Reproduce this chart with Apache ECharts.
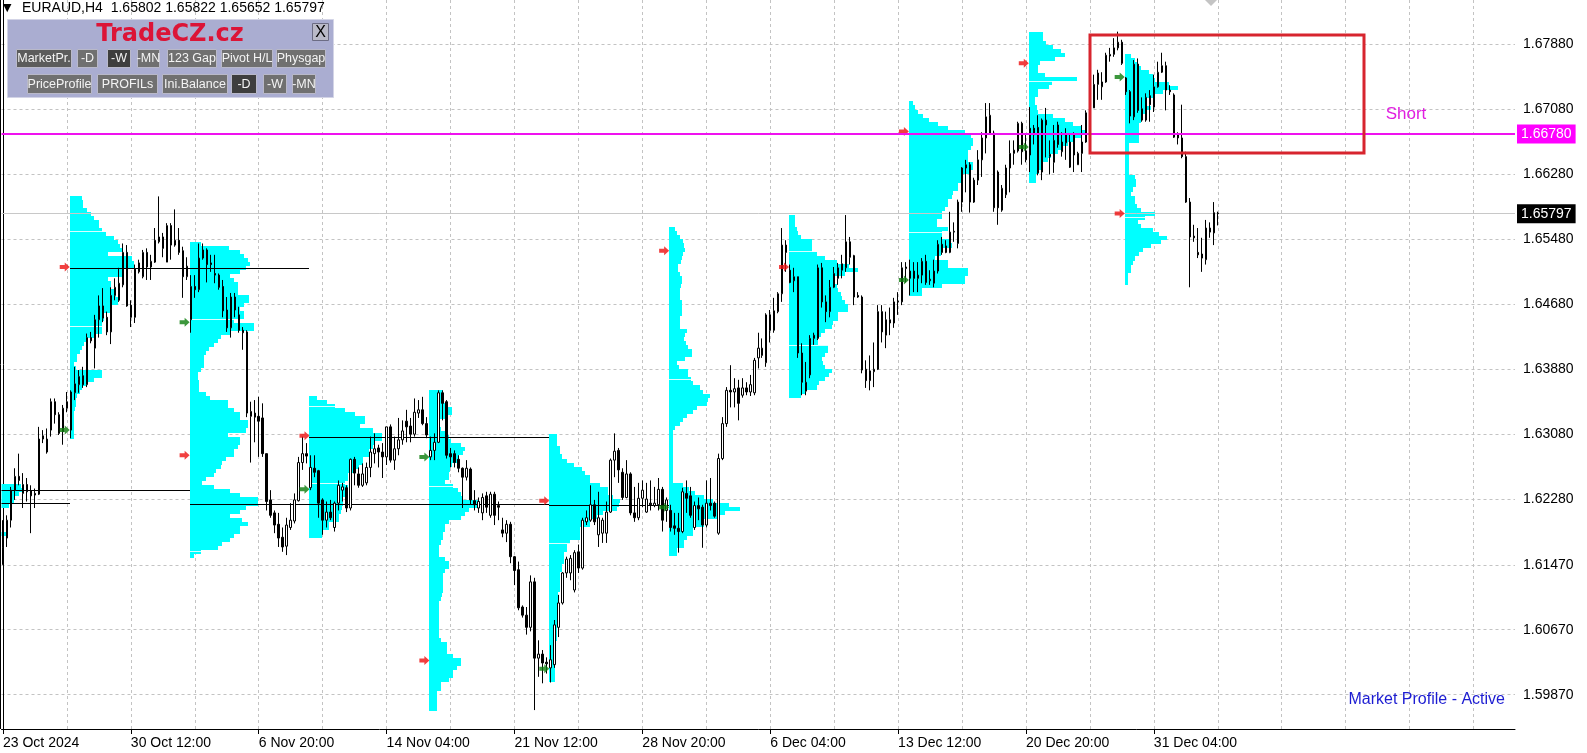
<!DOCTYPE html>
<html><head><meta charset="utf-8">
<script src="https://cdn.jsdelivr.net/npm/echarts@6/dist/echarts.min.js"></script>
<style>html,body{margin:0;padding:0;background:#fff;}#c{width:1587px;height:753px;}</style>
</head><body><div id="c"></div>
<script>
// ---------- DATA ----------
const symbolName = 'EURAUD,H4';
// H4 candles: [open, close, low, high], bar index = position
const candles = [
[1.6196,1.6168,1.6147,1.6202],[1.6180,1.6202,1.6169,1.6208],[1.6202,1.6239,1.6193,1.6243],[1.6239,1.6256,1.6227,1.6266],[1.6256,1.6251,1.6245,1.6284],
[1.6235,1.6246,1.6217,1.6260],[1.6246,1.6237,1.6225,1.6254],[1.6238,1.6232,1.6186,1.6245],[1.6235,1.6233,1.6217,1.6241],[1.6234,1.6302,1.6233,1.6317],
[1.6302,1.6306,1.6297,1.6313],[1.6286,1.6302,1.6284,1.6315],[1.6313,1.6348,1.6305,1.6352],[1.6348,1.6332,1.6321,1.6352],[1.6332,1.6309,1.6307,1.6335],
[1.6311,1.6340,1.6295,1.6344],[1.6340,1.6348,1.6335,1.6360],[1.6313,1.6360,1.6303,1.6362],[1.6359,1.6370,1.6350,1.6391],[1.6369,1.6379,1.6359,1.6387],
[1.6380,1.6369,1.6365,1.6391],[1.6369,1.6427,1.6366,1.6432],[1.6427,1.6423,1.6420,1.6434],[1.6414,1.6449,1.6389,1.6455],[1.6449,1.6466,1.6427,1.6479],
[1.6466,1.6451,1.6446,1.6488],[1.6452,1.6434,1.6430,1.6459],[1.6434,1.6479,1.6419,1.6489],[1.6479,1.6489,1.6473,1.6500],[1.6473,1.6494,1.6471,1.6513],
[1.6492,1.6532,1.6489,1.6543],[1.6532,1.6466,1.6465,1.6541],[1.6467,1.6452,1.6440,1.6473],[1.6452,1.6512,1.6445,1.6517],[1.6508,1.6519,1.6506,1.6523],
[1.6502,1.6532,1.6500,1.6535],[1.6532,1.6514,1.6498,1.6537],[1.6514,1.6521,1.6498,1.6529],[1.6520,1.6547,1.6519,1.6562],[1.6545,1.6551,1.6543,1.6601],
[1.6551,1.6537,1.6526,1.6556],[1.6520,1.6565,1.6520,1.6568],[1.6565,1.6541,1.6523,1.6568],[1.6541,1.6547,1.6539,1.6585],[1.6547,1.6532,1.6529,1.6562],
[1.6534,1.6502,1.6476,1.6539],[1.6502,1.6515,1.6498,1.6526],[1.6449,1.6490,1.6433,1.6504],[1.6490,1.6486,1.6476,1.6504],[1.6486,1.6525,1.6483,1.6543],
[1.6525,1.6535,1.6523,1.6543],[1.6535,1.6517,1.6495,1.6537],[1.6519,1.6517,1.6508,1.6529],[1.6506,1.6504,1.6494,1.6529],[1.6504,1.6489,1.6486,1.6506],
[1.6490,1.6460,1.6452,1.6498],[1.6461,1.6439,1.6434,1.6477],[1.6439,1.6477,1.6427,1.6482],[1.6461,1.6477,1.6452,1.6482],[1.6455,1.6436,1.6433,1.6465],
[1.6436,1.6433,1.6412,1.6440],[1.6434,1.6334,1.6329,1.6436],[1.6330,1.6336,1.6273,1.6348],[1.6334,1.6329,1.6298,1.6350],[1.6330,1.6324,1.6280,1.6354],
[1.6328,1.6284,1.6280,1.6346],[1.6284,1.6225,1.6214,1.6284],[1.6227,1.6208,1.6205,1.6239],[1.6211,1.6196,1.6186,1.6214],[1.6197,1.6180,1.6169,1.6211],
[1.6181,1.6169,1.6163,1.6193],[1.6170,1.6196,1.6159,1.6205],[1.6193,1.6202,1.6190,1.6223],[1.6201,1.6227,1.6198,1.6235],[1.6226,1.6273,1.6225,1.6280],
[1.6273,1.6284,1.6264,1.6305],[1.6284,1.6281,1.6272,1.6297],[1.6242,1.6267,1.6239,1.6282],[1.6266,1.6261,1.6255,1.6282],[1.6263,1.6223,1.6205,1.6264],
[1.6227,1.6202,1.6184,1.6229],[1.6202,1.6212,1.6193,1.6225],[1.6212,1.6205,1.6202,1.6227],[1.6193,1.6223,1.6188,1.6225],[1.6223,1.6245,1.6214,1.6251],
[1.6239,1.6243,1.6225,1.6248],[1.6242,1.6217,1.6212,1.6245],[1.6217,1.6277,1.6214,1.6278],[1.6277,1.6260,1.6245,1.6280],[1.6259,1.6245,1.6242,1.6267],
[1.6245,1.6259,1.6243,1.6272],[1.6248,1.6267,1.6245,1.6273],[1.6267,1.6286,1.6255,1.6305],[1.6284,1.6290,1.6272,1.6309],[1.6291,1.6286,1.6267,1.6295],
[1.6286,1.6280,1.6254,1.6297],[1.6280,1.6317,1.6270,1.6317],[1.6317,1.6276,1.6273,1.6320],[1.6276,1.6290,1.6264,1.6305],[1.6290,1.6301,1.6282,1.6328],
[1.6301,1.6312,1.6295,1.6325],[1.6324,1.6317,1.6298,1.6338],[1.6318,1.6308,1.6298,1.6328],[1.6308,1.6335,1.6305,1.6352],[1.6334,1.6338,1.6328,1.6350],
[1.6338,1.6321,1.6319,1.6354],[1.6321,1.6307,1.6303,1.6329],[1.6280,1.6288,1.6276,1.6305],[1.6288,1.6298,1.6276,1.6309],[1.6298,1.6359,1.6297,1.6362],
[1.6359,1.6346,1.6325,1.6362],[1.6348,1.6282,1.6278,1.6350],[1.6284,1.6280,1.6267,1.6291],[1.6284,1.6273,1.6267,1.6288],[1.6277,1.6266,1.6261,1.6282],
[1.6266,1.6255,1.6217,1.6267],[1.6255,1.6266,1.6251,1.6276],[1.6265,1.6227,1.6221,1.6267],[1.6226,1.6221,1.6214,1.6239],[1.6217,1.6225,1.6211,1.6230],
[1.6211,1.6230,1.6202,1.6235],[1.6232,1.6218,1.6211,1.6237],[1.6208,1.6234,1.6205,1.6237],[1.6234,1.6208,1.6196,1.6237],[1.6220,1.6218,1.6202,1.6225],
[1.6190,1.6186,1.6181,1.6205],[1.6186,1.6197,1.6175,1.6202],[1.6197,1.6157,1.6149,1.6200],[1.6157,1.6140,1.6122,1.6158],[1.6141,1.6094,1.6091,1.6151],
[1.6095,1.6085,1.6082,1.6097],[1.6085,1.6070,1.6061,1.6095],[1.6070,1.6126,1.6065,1.6134],[1.6126,1.6032,1.5968,1.6131],[1.6032,1.6037,1.6009,1.6054],
[1.6037,1.6026,1.6001,1.6042],[1.6027,1.6025,1.6013,1.6033],[1.6020,1.6030,1.6002,1.6048],[1.6024,1.6073,1.6020,1.6079],[1.6070,1.6100,1.6058,1.6110],
[1.6100,1.6137,1.6098,1.6138],[1.6137,1.6154,1.6131,1.6157],[1.6137,1.6155,1.6128,1.6159],[1.6116,1.6162,1.6113,1.6165],[1.6163,1.6143,1.6137,1.6172],
[1.6143,1.6202,1.6141,1.6205],[1.6200,1.6205,1.6196,1.6214],[1.6202,1.6221,1.6200,1.6245],[1.6221,1.6200,1.6196,1.6227],[1.6184,1.6205,1.6169,1.6237],
[1.6186,1.6202,1.6174,1.6205],[1.6186,1.6212,1.6174,1.6225],[1.6212,1.6276,1.6211,1.6278],[1.6276,1.6287,1.6255,1.6309],[1.6288,1.6264,1.6248,1.6291],
[1.6261,1.6230,1.6227,1.6266],[1.6230,1.6259,1.6229,1.6276],[1.6259,1.6211,1.6208,1.6261],[1.6211,1.6205,1.6200,1.6243],[1.6205,1.6229,1.6202,1.6248],
[1.6229,1.6239,1.6218,1.6251],[1.6212,1.6228,1.6211,1.6248],[1.6223,1.6221,1.6214,1.6251],[1.6220,1.6223,1.6218,1.6243],[1.6221,1.6240,1.6214,1.6254],
[1.6240,1.6202,1.6188,1.6243],[1.6214,1.6227,1.6200,1.6230],[1.6214,1.6193,1.6188,1.6221],[1.6195,1.6192,1.6184,1.6211],[1.6192,1.6188,1.6162,1.6211],
[1.6188,1.6237,1.6186,1.6242],[1.6235,1.6229,1.6211,1.6251],[1.6232,1.6208,1.6205,1.6243],[1.6193,1.6220,1.6190,1.6225],[1.6220,1.6216,1.6202,1.6230],
[1.6218,1.6196,1.6168,1.6221],[1.6196,1.6223,1.6193,1.6251],[1.6223,1.6220,1.6214,1.6254],[1.6223,1.6207,1.6205,1.6225],[1.6186,1.6278,1.6184,1.6284],
[1.6278,1.6321,1.6276,1.6329],[1.6321,1.6362,1.6317,1.6366],[1.6362,1.6360,1.6341,1.6393],[1.6360,1.6364,1.6341,1.6377],[1.6365,1.6346,1.6325,1.6375],
[1.6356,1.6365,1.6353,1.6377],[1.6365,1.6360,1.6356,1.6372],[1.6360,1.6369,1.6355,1.6381],[1.6359,1.6399,1.6356,1.6402],[1.6402,1.6414,1.6389,1.6433],
[1.6405,1.6414,1.6402,1.6426],[1.6396,1.6455,1.6391,1.6457],[1.6455,1.6436,1.6421,1.6461],[1.6436,1.6460,1.6433,1.6476],[1.6459,1.6481,1.6457,1.6483],
[1.6481,1.6541,1.6471,1.6562],[1.6541,1.6532,1.6508,1.6547],[1.6510,1.6495,1.6494,1.6517],[1.6497,1.6502,1.6483,1.6513],[1.6502,1.6408,1.6402,1.6502],
[1.6408,1.6372,1.6356,1.6420],[1.6361,1.6372,1.6356,1.6397],[1.6381,1.6426,1.6377,1.6430],[1.6426,1.6430,1.6418,1.6433],[1.6426,1.6513,1.6424,1.6517],
[1.6513,1.6471,1.6464,1.6519],[1.6471,1.6459,1.6446,1.6479],[1.6459,1.6489,1.6452,1.6498],[1.6489,1.6506,1.6488,1.6514],[1.6500,1.6513,1.6492,1.6519],
[1.6510,1.6518,1.6500,1.6529],[1.6513,1.6545,1.6508,1.6578],[1.6545,1.6526,1.6517,1.6551],[1.6528,1.6477,1.6467,1.6529],[1.6479,1.6477,1.6476,1.6483],
[1.6477,1.6387,1.6383,1.6479],[1.6388,1.6374,1.6365,1.6399],[1.6374,1.6386,1.6362,1.6405],[1.6385,1.6388,1.6366,1.6421],[1.6388,1.6459,1.6387,1.6467],
[1.6459,1.6434,1.6421,1.6467],[1.6430,1.6449,1.6414,1.6459],[1.6445,1.6449,1.6430,1.6464],[1.6445,1.6471,1.6439,1.6476],[1.6471,1.6472,1.6455,1.6483],
[1.6471,1.6513,1.6467,1.6520],[1.6512,1.6514,1.6495,1.6520],[1.6500,1.6509,1.6479,1.6523],[1.6509,1.6500,1.6483,1.6520],[1.6500,1.6504,1.6483,1.6520],
[1.6504,1.6521,1.6494,1.6525],[1.6521,1.6495,1.6492,1.6529],[1.6497,1.6499,1.6492,1.6510],[1.6494,1.6509,1.6489,1.6523],[1.6509,1.6542,1.6506,1.6547],
[1.6542,1.6532,1.6529,1.6551],[1.6540,1.6532,1.6531,1.6547],[1.6532,1.6557,1.6531,1.6582],[1.6557,1.6558,1.6545,1.6569],[1.6543,1.6594,1.6537,1.6597],
[1.6594,1.6636,1.6582,1.6637],[1.6636,1.6640,1.6606,1.6646],[1.6640,1.6594,1.6581,1.6643],[1.6621,1.6594,1.6593,1.6624],[1.6621,1.6646,1.6615,1.6658],
[1.6646,1.6673,1.6625,1.6680],[1.6673,1.6699,1.6654,1.6716],[1.6679,1.6701,1.6677,1.6716],[1.6679,1.6587,1.6582,1.6682],[1.6631,1.6587,1.6566,1.6633],
[1.6584,1.6611,1.6582,1.6615],[1.6603,1.6636,1.6599,1.6640],[1.6636,1.6654,1.6606,1.6670],[1.6654,1.6658,1.6640,1.6670],[1.6657,1.6691,1.6655,1.6693],
[1.6691,1.6656,1.6640,1.6693],[1.6646,1.6657,1.6643,1.6677],[1.6685,1.6652,1.6631,1.6711],[1.6685,1.6677,1.6665,1.6689],[1.6686,1.6630,1.6627,1.6701],
[1.6631,1.6695,1.6621,1.6697],[1.6689,1.6695,1.6649,1.6710],[1.6650,1.6653,1.6628,1.6670],[1.6643,1.6670,1.6630,1.6689],[1.6689,1.6665,1.6661,1.6693],
[1.6656,1.6668,1.6650,1.6680],[1.6667,1.6677,1.6646,1.6685],[1.6668,1.6637,1.6636,1.6677],[1.6677,1.6652,1.6631,1.6680],[1.6640,1.6654,1.6640,1.6656],
[1.6654,1.6668,1.6631,1.6689],[1.6668,1.6704,1.6667,1.6707],[1.6704,1.6720,1.6698,1.6726],[1.6710,1.6739,1.6710,1.6751],[1.6739,1.6753,1.6720,1.6757],
[1.6736,1.6742,1.6720,1.6754],[1.6742,1.6775,1.6741,1.6778],[1.6774,1.6776,1.6767,1.6784],[1.6776,1.6784,1.6773,1.6796],[1.6784,1.6791,1.6781,1.6804],
[1.6791,1.6765,1.6763,1.6794],[1.6747,1.6730,1.6726,1.6748],[1.6730,1.6700,1.6691,1.6732],[1.6699,1.6764,1.6695,1.6769],[1.6764,1.6707,1.6704,1.6771],
[1.6695,1.6709,1.6693,1.6723],[1.6695,1.6723,1.6693,1.6728],[1.6725,1.6714,1.6693,1.6732],[1.6711,1.6736,1.6705,1.6751],[1.6736,1.6754,1.6735,1.6767],
[1.6754,1.6762,1.6753,1.6778],[1.6762,1.6732,1.6707,1.6767],[1.6732,1.6730,1.6726,1.6738],[1.6726,1.6674,1.6673,1.6728],[1.6677,1.6673,1.6665,1.6680],
[1.6673,1.6650,1.6648,1.6714],[1.6650,1.6594,1.6593,1.6656],[1.6594,1.6551,1.6489,1.6599],[1.6552,1.6550,1.6545,1.6566],[1.6532,1.6529,1.6525,1.6562],
[1.6525,1.6530,1.6508,1.6550],[1.6523,1.6562,1.6517,1.6572],[1.6557,1.6562,1.6550,1.6569],[1.6556,1.6581,1.6541,1.6594],[1.65802,1.65797,1.65652,1.65822]
];
const lastBar = [1.65802, 1.65822, 1.65652, 1.65797]; // O H L C shown in header

const xLabelBars = [0, 32, 64, 96, 128, 160, 192, 224, 256, 288];
const xLabels = ['23 Oct 2024','30 Oct 12:00','6 Nov 20:00','14 Nov 04:00','21 Nov 12:00','28 Nov 20:00','6 Dec 04:00','13 Dec 12:00','20 Dec 20:00','31 Dec 04:00'];
const xGridBars = [16,32,48,64,80,96,112,128,144,160,176,192,208,224,240,256,272,288,304,320,336,352,368];
const yTicks = [1.59870,1.60670,1.61470,1.62280,1.63080,1.63880,1.64680,1.65480,1.66280,1.67080,1.67880];

// Market profiles (weekly): start bar, top price, row widths (in bars) per 0.0005 price row
const profStep = 0.0005;
const profStarts = [-1, 17, 47, 77, 107, 137, 167, 197, 227, 257, 281];
const profTops = [1.6247, 1.6602, 1.6545, 1.6355, 1.6362, 1.6308, 1.6563, 1.6578, 1.6718, 1.6803, 1.6777];
const profA = [5.8,6.2,5.2,4,4,2.7,0,0,0,0,0,0,2];
const profB = [3,3.2,3.2,4.2,5.4,6,7.2,7.2,8,9,11,12,12.5,13,9.7,15.5,16,16,13.7,13,9.7,10.4,10.4,11,11.5,12.2,12,10.4,10,8.7,8.5,8,8,8,6,4.5,3.5,3,2.5,1.7,1.7,1,1.5,8,8,6,4,3,2.5,1.7,1.5,1.5,1.2,1,1,1,1,1,1,1];
const profC = [2.75,9.8,12.7,13.5,14.5,15.2,14,12.7,10.2,11,12,12,12,14.8,14.8,13.5,12.7,13.5,13.5,11,16,16,10.2,7.8,7,6,4.8,4.2,3.7,3.7,3.7,2.8,2,2,2.3,2.3,2.3,4,5.2,9.5,9.5,11,12.7,12.7,14.5,14.5,14,9.5,12.7,12.7,12,11,11,9,8.2,7.8,6.5,6,4,3.2,6,10,12.7,17,17,14,12.7,10.2,13,14.5,12.7,12.7,11,10,8,7,2.8,1];
const profD = [1.9,4.5,6.5,9,11.5,14,14,12.7,16,18.2,18.2,16.5,16,14.8,14.8,13.5,13.5,12.5,11.5,9.7,9.7,9,9.7,9.7,9,8.5,8.5,8.2,8,7.4,7.4,4.8,4.8,3.2,3.2];
const profE = [3.5,3.5,3.5,4,5.7,5.7,4,2,2,3,4,5,5.3,8,9,8.5,7.3,7.3,5.7,5.2,4.8,4.8,4,6,7.2,8,8.2,12.2,12.2,10,9,8,5,4,3.8,3.3,3.3,3,2.5,2.5,2.5,4,4.8,4.8,4,3.5,3.5,3.5,3.5,3.5,3.2,3,2.5,2.5,2.5,2.5,2.5,2.5,2.5,2.5,2.5,3,4.5,4.5,4.5,6,8,8,7,6,6,5,3,3,2,2,2,2,2];
const profF = [2,2,2,2.7,2.7,3.2,4.5,6.2,8.2,9,10.3,10.3,12.7,14.8,14.8,16,17.7,17.5,17,13.5,12,10.3,10.3,7.7,7.7,7.7,5.3,4.4,4.4,3.8,3.6,3.6,3.2,3.2,2.7,2.7,2.7,2.7,2.7,2.3,2.3,2.3,2.3,2.3,2.3,2.3,2,2,2,2,2,1.5,1.5,1.5,1.5,1.5,1.5,1.5,1.5,1.5,1.5];
const profG = [1.5,2,2.7,3.5,3.8,4,3.5,3.2,3,2.3,2.3,2.8,3.2,3.2,3,2.7,2.7,2.7,3.2,3.2,3.2,3.2,2.7,2.7,2.7,4.4,4,3.6,4.2,4.8,5.7,5.7,4,2,2.5,4.8,4.8,5.5,6,7.7,8.5,10.2,9.8,9.4,7,6,4.4,3.5,2.7,1.5,1,1,1,1,1,1,1,1,1,1,1,1,1,3.5,5,6.5,8.6,11,15,17.7,14,11.9,8.6,8.6,6,6,4.5,3.6,3.6,2,2];
const profH = [1.5,1.5,1.5,2,2.3,3,5.7,5.7,5.7,6.9,9,12,15,17.3,14,11.5,11.5,12,12.2,13,13.2,14,14.8,14.8,12.2,12.2,11,10.7,9,8,7.3,7.3,9.8,9.8,9,8.2,8.6,9,10.7,10,9,7.5,7,4,3];
const profI = [1,1.5,2.3,3.5,5,7.3,9.8,14,15.5,16,16,15.5,14.8,14.8,14.8,16,16,15,13.2,13,12.3,12.3,11,10.7,9.8,9.8,9,8.2,8.2,7,7,9.8,8.2,8.2,10,10.7,8.2,8,6.5,9.8,9.8,14.8,14.8,14,14,8.2,3.2,3.2];
const profJ = [3.5,3.5,4.4,6,8,9,6.5,2.7,2.3,2.3,4,12,5.7,5,2.3,2.3,1.5,1.5,2,2.3,6,9,11,13,14,13,11,9.8,8,7.3,5.5,4.8,3.2,3.2,2.5,1.9,1.9];
const profK = [1.7,2.5,3.2,4.2,6,7,7.5,11,13.3,9.5,7,5,5.5,6.7,5.5,4.2,4.2,3.7,3.7,3.7,3.7,3.5,1.2,1.2,1.2,1.2,1.2,1.2,1.2,1.2,2.5,2.9,2.9,2.2,1.7,2.5,2.5,3,4.2,7.5,5,3.3,4.2,7,8.5,10.5,9,6.7,4.5,3.5,2.5,2,1.7,1.5,0.8,0.8,0.8];
const profWidths = [profA, profB, profC, profD, profE, profF, profG, profH, profI, profJ, profK];
// value-area edge levels drawn as thin white lines: [profile index, price]
const vaLevels = [[1,1.6558],[1,1.6441],[2,1.6450],[2,1.6164],[3,1.6343],[3,1.6248],[4,1.6244],[5,1.6174],[6,1.6376],[7,1.6534],[7,1.6418],[8,1.6557],[9,1.6743],[10,1.6576]];

// POC lines: [fromBar, toBar, price]
const pocLines = [[-1,47,1.6239],[-1,17,1.6223],[17,77,1.6513],[47,137,1.6222],[77,137,1.6304],[137,167,1.6221]];
// profile marker arrows: [bar, price]
const redMarks = [[17,1.6514],[47,1.6282],[77,1.6306],[107,1.6029],[137,1.6226],[167,1.6534],[197,1.6514],[227,1.6681],[257,1.6765],[281,1.6580]];
const greenMarks = [[17,1.6313],[47,1.6446],[77,1.6240],[107,1.6280],[137,1.6019],[167,1.6218],[227,1.6498],[257,1.6662],[281,1.6748]];

const shortLevel = 1.66780;
const lastPrice = 1.65797;
const shortBox = [272, 340.5, 1.6800, 1.6654]; // fromBar, toBar, top, bottom
const shortText = ['Short', 346, 1.6702];

// ---------- BUILD ----------
const FONT = 'Liberation Sans, Arial, sans-serif';
const X_MIN = -0.375, X_MAX = X_MIN + 1515 / 4;
const candleData = candles.map((c, i) => [i, c[0], c[1], c[2], c[3]]);
const profRows = [];
profWidths.forEach((ws, p) => {
  ws.forEach((w, k) => {
    if (w > 0) profRows.push([profStarts[p] - 0.3, profTops[p] - k * profStep, profTops[p] - (k + 1) * profStep, w]);
  });
});
const vaRows = vaLevels.map(v => {
  const p = v[0], k = Math.floor((profTops[p] - v[1]) / profStep);
  return [profStarts[p] - 0.3, v[1], profWidths[p][k] || 0];
});

function renderProfile(params, api) {
  const x0 = api.value(0), hi = api.value(1), lo = api.value(2), w = api.value(3);
  const a = api.coord([x0, hi]), b = api.coord([x0 + w, lo]);
  const cs = params.coordSys;
  const xa = Math.round(a[0]), xb = Math.round(b[0]), ya = Math.round(a[1]), yb = Math.round(b[1]);
  const r = echarts.graphic.clipRectByRect({x: xa, y: ya, width: xb - xa, height: yb - ya},
    {x: cs.x, y: cs.y, width: cs.width, height: cs.height});
  if (!r) return null;
  return {type: 'rect', shape: r, style: {fill: '#00ffff'}};
}
function renderVa(params, api) {
  const a = api.coord([api.value(0), api.value(1)]);
  const b = api.coord([api.value(0) + api.value(2), api.value(1)]);
  const y = Math.round(a[1]) + 0.5;
  return {type: 'line', shape: {x1: Math.round(a[0]), y1: y, x2: Math.round(b[0]), y2: y}, style: {stroke: '#ffffff', lineWidth: 1, opacity: 0.85}};
}
function renderPoc(params, api) {
  const a = api.coord([api.value(0) - 0.3, api.value(2)]);
  const b = api.coord([api.value(1) - 0.3, api.value(2)]);
  const cs = params.coordSys;
  const y = Math.round(a[1]) + 0.5;
  return {type: 'line', shape: {x1: Math.max(cs.x, Math.round(a[0])), y1: y, x2: Math.round(b[0]), y2: y}, style: {stroke: '#000', lineWidth: 1}};
}
function renderBox(params, api) {
  const a = api.coord([api.value(0), api.value(2)]);
  const b = api.coord([api.value(1), api.value(3)]);
  return {type: 'rect', shape: {x: Math.round(a[0]), y: Math.round(a[1]), width: Math.round(b[0] - a[0]), height: Math.round(b[1] - a[1])},
    style: {fill: 'none', stroke: '#d7252e', lineWidth: 3}};
}
function renderShort(params, api) {
  const p = api.coord([api.value(1), api.value(2)]);
  return {type: 'text', x: p[0], y: p[1], style: {text: shortText[0], fill: '#e01ee0', font: '17px ' + FONT, textAlign: 'left', textVerticalAlign: 'middle'}};
}

const arrowPath = 'path://M0,2.5 L5,2.5 L5,0 L10,4.5 L5,9 L5,6.5 L0,6.5 Z';

// panel buttons (UI overlay)
const row1 = [['MarketPr.',16,55,'#5c5c5c'],['-D',77,20,'#707070'],['-W',107,23,'#3e3e3e'],['-MN',137,22,'#707070'],['123 Gap',167,49,'#707070'],['Pivot H/L',221,51,'#707070'],['Physgap',276,49,'#707070']];
const row2 = [['PriceProfile',27,64,'#707070'],['PROFILs',97,60,'#707070'],['Ini.Balance',162,65,'#707070'],['-D',231,25,'#3e3e3e'],['-W',263,23,'#707070'],['-MN',292,23,'#707070']];
function btns(list, y, h) {
  const out = [];
  list.forEach(b => {
    out.push({type: 'rect', shape: {x: b[1] + 0.5, y: y + 0.5, width: b[2], height: h}, style: {fill: b[3], stroke: '#b9b9c9', lineWidth: 1}, z: 101});
    out.push({type: 'text', x: b[1] + b[2] / 2 + 0.5, y: y + h / 2 + 1, style: {text: b[0], fill: '#f4f4f4', font: '12.5px ' + FONT, textAlign: 'center', textVerticalAlign: 'middle'}, z: 102});
  });
  return out;
}

const chart = echarts.init(document.getElementById('c'), null, {renderer: 'canvas', width: 1587, height: 753});
chart.setOption({
  animation: false,
  backgroundColor: '#ffffff',
  grid: {left: 0, right: 72, top: 0, bottom: 24},
  xAxis: [{
    type: 'value', min: X_MIN, max: X_MAX, position: 'bottom',
    axisLine: {show: true, lineStyle: {color: '#000', width: 1}},
    axisTick: {show: true, length: 5, customValues: xLabelBars, lineStyle: {color: '#000'}},
    axisLabel: {show: true, customValues: xLabelBars, align: 'left', margin: 7, color: '#000', fontFamily: FONT, fontSize: 14,
      formatter: v => xLabels[xLabelBars.indexOf(Math.round(v))] || ''},
    splitLine: {show: false}
  }, {
    type: 'value', min: X_MIN, max: X_MAX, position: 'bottom',
    axisLine: {show: false}, axisLabel: {show: false},
    axisTick: {show: false, customValues: xGridBars},
    splitLine: {show: true, lineStyle: {color: '#c3c3c3', type: [3, 3], width: 1}}
  }],
  yAxis: [{
    type: 'value', min: 1.59447, max: 1.6843, position: 'right',
    axisLine: {show: true, lineStyle: {color: '#000', width: 1}},
    axisTick: {show: false, customValues: yTicks},
    axisLabel: {show: true, customValues: yTicks, margin: 8, color: '#000', fontFamily: FONT, fontSize: 14, formatter: v => v.toFixed(5)},
    splitLine: {show: true, lineStyle: {color: '#c3c3c3', type: [3, 3], width: 1}}
  }],
  series: [
    {type: 'custom', name: 'profiles', z: 1, silent: true, renderItem: renderProfile, data: profRows, encode: {x: 0, y: 1}},
    {type: 'custom', name: 'va', z: 1.5, silent: true, renderItem: renderVa, data: vaRows, encode: {x: 0, y: 1}},
    {type: 'custom', name: 'poc', z: 2, silent: true, renderItem: renderPoc, data: pocLines, encode: {x: 0, y: 2}},
    {type: 'line', name: 'last', data: [], z: 2, silent: true,
      markLine: {silent: true, symbol: ['none', 'none'], z: 2, animation: false, precision: 5,
        lineStyle: {color: '#c8c8c8', width: 1, type: 'solid'},
        label: {show: true, position: 'end', distance: 2, formatter: () => lastPrice.toFixed(5), backgroundColor: '#000', color: '#fff', padding: [3, 4, 2, 4], fontFamily: FONT, fontSize: 14},
        emphasis: {disabled: true},
        data: [{yAxis: lastPrice}]}},
    {type: 'candlestick', name: symbolName, z: 3, silent: true, barWidth: 2,
      data: candleData, encode: {x: 0, y: [1, 2, 3, 4]},
      itemStyle: {color: '#ffffff', color0: '#000000', borderColor: '#000000', borderColor0: '#000000', borderColorDoji: '#000000', borderWidth: 1}},
    {type: 'scatter', name: 'red', z: 4, silent: true, symbol: arrowPath, symbolSize: [10, 9], symbolOffset: [-5, 0],
      itemStyle: {color: '#ee1010'}, data: redMarks.map(m => [m[0] - 0.3, m[1]])},
    {type: 'scatter', name: 'green', z: 4, silent: true, symbol: arrowPath, symbolSize: [10, 9], symbolOffset: [-5, 0],
      itemStyle: {color: '#0b7d0b'}, data: greenMarks.map(m => [m[0] - 0.3, m[1]])},
    {type: 'line', name: 'short', data: [], z: 5, silent: true,
      markLine: {silent: true, symbol: ['none', 'none'], z: 5, animation: false, precision: 5,
        lineStyle: {color: '#ef12ef', width: 2, type: 'solid'},
        label: {show: true, position: 'end', distance: 2, formatter: () => shortLevel.toFixed(5), backgroundColor: '#ff00ff', color: '#fff', padding: [3, 4, 2, 4], fontFamily: FONT, fontSize: 14},
        emphasis: {disabled: true},
        data: [{yAxis: shortLevel}]}},
    {type: 'custom', name: 'box', z: 6, silent: true, renderItem: renderBox, data: [shortBox], encode: {x: 0, y: 2}},
    {type: 'custom', name: 'shortText', z: 6, silent: true, renderItem: renderShort, data: [shortText], encode: {x: 1, y: 2}}
  ],
  graphic: [
    {type: 'line', shape: {x1: 0.5, y1: 0, x2: 0.5, y2: 729}, style: {stroke: '#000', lineWidth: 1}, z: 100},
    {type: 'polygon', shape: {points: [[1205, 0], [1217, 0], [1211, 6]]}, style: {fill: '#c4c4c4'}, z: 100},
    {type: 'text', x: 3, y: 8, style: {text: '▼', fill: '#000', font: '11px DejaVu Sans', textVerticalAlign: 'middle'}, z: 100},
    {type: 'text', x: 22, y: 8, style: {text: symbolName + '  ' + lastBar.map(v => v.toFixed(5)).join(' '), fill: '#000', font: '14px ' + FONT, textVerticalAlign: 'middle'}, z: 100},
    {type: 'rect', shape: {x: 7.5, y: 19.5, width: 326, height: 78}, style: {fill: '#aaadd1', stroke: '#d3d4e6', lineWidth: 1}, z: 100},
    {type: 'text', x: 170, y: 35, style: {text: 'TradeCZ.cz', fill: '#dc1437', font: 'bold 24px DejaVu Sans', textAlign: 'center', textVerticalAlign: 'middle'}, z: 101},
    {type: 'rect', shape: {x: 312.5, y: 23.5, width: 16, height: 17}, style: {fill: '#b9b9c8', stroke: '#6c6c84', lineWidth: 1}, z: 101},
    {type: 'text', x: 320.5, y: 32.5, style: {text: 'X', fill: '#000', font: '16px ' + FONT, textAlign: 'center', textVerticalAlign: 'middle'}, z: 102},
    ...btns(row1, 49, 18),
    ...btns(row2, 74, 19),
    {type: 'text', right: 82, top: 692, style: {text: 'Market Profile - Active', fill: '#1c1cd2', font: '16px ' + FONT}, z: 100}
  ]
});
</script>
</body></html>
